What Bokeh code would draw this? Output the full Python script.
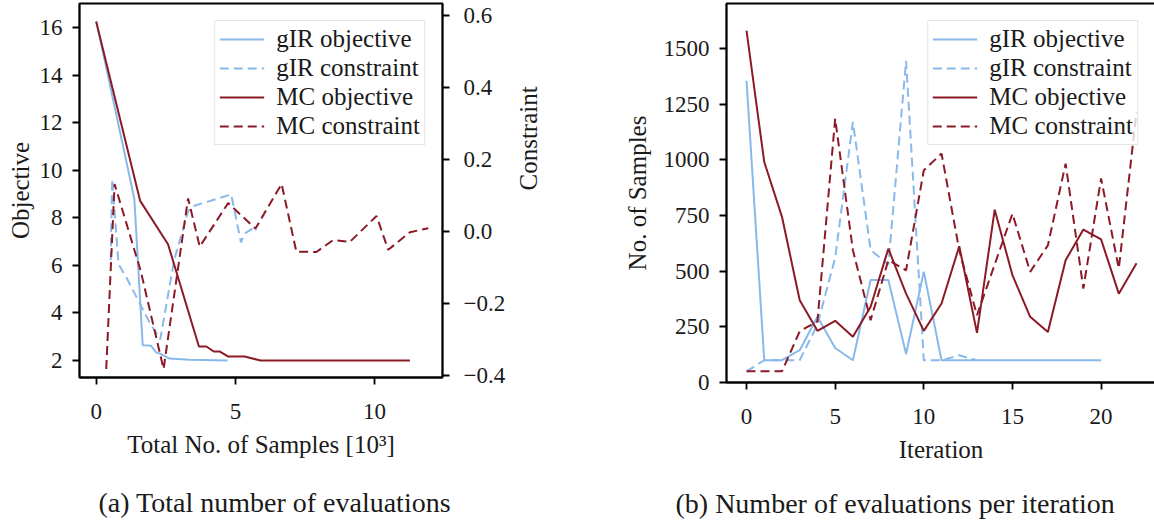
import math
from bokeh.plotting import figure
from bokeh.models import (Range1d, LinearAxis, FixedTicker, CustomJSTickFormatter,
                          Legend, LegendItem, Title)
from bokeh.layouts import row
from bokeh.embed import file_html
from bokeh.resources import INLINE

# ---------------- data: panel (a) ----------------
gir_obj_x = [0, 1.37, 1.67, 1.97, 2.15, 2.33, 2.63, 3.35, 4.72]
gir_obj_y = [16.28, 8.8, 2.64, 2.62, 2.34, 2.27, 2.08, 2.03, 2.0]
mc_obj_x = [0, 1.58, 2.58, 3.69, 3.96, 4.22, 4.43, 4.73, 5.33, 5.9, 11.27]
mc_obj_y = [16.24, 8.71, 6.89, 2.59, 2.59, 2.38, 2.38, 2.17, 2.17, 2.0, 2.0]
gir_con_x = [0.52, 0.575, 0.8, 1.1, 1.5, 1.9, 2.3, 2.8, 3.3, 3.47, 4.85, 5.2, 5.33, 5.69, 5.75]
gir_con_y = [-0.08, 0.146, -0.09, -0.13, -0.19, -0.25, -0.30, -0.08, 0.056, 0.07, 0.103,
             -0.03, -0.006, 0.012, 0.003]
mc_con_x = [0.36, 0.66, 1.6, 2.42, 3.3, 3.72, 4.74, 5.72, 6.66, 7.19, 7.91, 8.51, 9.11,
            10.07, 10.49, 11.27, 11.93]
mc_con_y = [-0.382, 0.132, -0.11, -0.382, 0.092, -0.042, 0.079, 0.008, 0.132, -0.056,
            -0.057, -0.024, -0.029, 0.043, -0.051, -0.002, 0.009]

# ---------------- data: panel (b) ----------------
gir_obj_it = list(range(21))
gir_obj_n = [1355, 100, 100, 145, 295, 155, 100, 460, 460, 128, 498, 100, 100, 100, 100,
             100, 100, 100, 100, 100, 100]
gir_con_it = list(range(14))
gir_con_n = [50, 100, 100, 100, 260, 560, 1170, 595, 530, 1445, 100, 100, 122, 100]
mc_obj_it = list(range(23))
mc_obj_n = [1580, 990, 744, 369, 232, 277, 205, 340, 601, 399, 232, 355, 612, 223, 776,
            482, 295, 227, 549, 687, 643, 399, 535]
mc_con_it = list(range(23))
mc_con_n = [50, 50, 50, 230, 275, 1185, 594, 280, 549, 504, 953, 1028, 594, 302, 530,
            758, 497, 616, 983, 422, 916, 512, 1215]

legend_labels = ["gIR objective", "gIR constraint", "MC objective", "MC constraint"]
captions = ["(a) Total number of evaluations", "(b) Number of evaluations per iteration"]

BLUE = "#88b9ea"
RED = "#8b1a26"
FONT = "Liberation Serif"
TXT = "#1a1a1a"
DASH = "9 5"
LW = 2.0


def style_axis(ax, xaxis=False):
    ax.axis_line_color = "black"
    ax.axis_line_width = 1.8
    ax.major_tick_line_color = "black"
    ax.major_tick_line_width = 1.8
    ax.major_tick_out = 7
    ax.major_tick_in = 0
    ax.minor_tick_line_color = None
    ax.major_label_text_font = FONT
    ax.major_label_text_font_size = "23px"
    ax.major_label_text_color = TXT
    ax.major_label_standoff = 19 if xaxis else 10
    ax.axis_label_text_font = FONT
    ax.axis_label_text_font_size = "25px"
    ax.axis_label_text_font_style = "normal"
    ax.axis_label_text_color = TXT
    ax.axis_label_standoff = 9 if xaxis else 10


def base_fig(xr, yr, fw, fh, bl, br, bt, bb):
    p = figure(x_range=xr, y_range=yr, frame_width=fw, frame_height=fh,
               min_border_left=bl, min_border_right=br, min_border_top=bt,
               min_border_bottom=bb, output_backend="svg", toolbar_location=None,
               background_fill_color="white", border_fill_color="white")
    p.xgrid.grid_line_color = None
    p.ygrid.grid_line_color = None
    p.outline_line_color = "black"
    p.outline_line_width = 1.8
    p.outline_line_alpha = 1.0
    return p


def make_legend(items):
    lg = Legend(items=items, location="top_right", margin=17,
                label_text_font=FONT, label_text_font_size="25px",
                label_text_color=TXT, glyph_width=45, glyph_height=28,
                label_height=28, spacing=1, padding=4, label_standoff=12,
                border_line_color="#cccccc", border_line_width=1.5,
                background_fill_color="white", background_fill_alpha=0.8)
    return lg


# ---------------- panel (a) ----------------
pa = base_fig(Range1d(-0.6, 12.44), Range1d(1.285, 17.01), 363, 374, 79, 157, 3, 136)
pa.extra_y_ranges = {"con": Range1d(-0.4056, 0.6333)}
pa.xaxis.ticker = FixedTicker(ticks=[0, 5, 10])
pa.yaxis.ticker = FixedTicker(ticks=[2, 4, 6, 8, 10, 12, 14, 16])
pa.xaxis.axis_label = "Total No. of Samples [10³]"
pa.yaxis.axis_label = "Objective"
raxis = LinearAxis(y_range_name="con", axis_label="Constraint",
                   ticker=FixedTicker(ticks=[-0.4, -0.2, 0.0, 0.2, 0.4, 0.6]),
                   formatter=CustomJSTickFormatter(
                       code="return tick.toFixed(1).replace('-', '\u2212');"))
pa.add_layout(raxis, "right")
style_axis(pa.xaxis[0], xaxis=True)
style_axis(pa.yaxis[0])
pa.yaxis[0].axis_label_standoff = 3
style_axis(raxis)
raxis.major_label_standoff = 14
raxis.axis_label_standoff = 20
raxis.axis_label_orientation = math.pi / 2

a1 = pa.line(gir_obj_x, gir_obj_y, line_color=BLUE, line_width=LW)
a2 = pa.line(gir_con_x, gir_con_y, line_color=BLUE, line_width=LW, line_dash=DASH,
             y_range_name="con")
a3 = pa.line(mc_obj_x, mc_obj_y, line_color=RED, line_width=LW)
a4 = pa.line(mc_con_x, mc_con_y, line_color=RED, line_width=LW, line_dash=DASH,
             y_range_name="con")
pa.add_layout(make_legend([LegendItem(label=l, renderers=[r]) for l, r in
                           zip(legend_labels, [a1, a2, a3, a4])]))
pa.add_layout(Title(text=captions[0], align="left", text_font=FONT,
                    text_font_size="28px", text_font_style="normal",
                    text_color=TXT, standoff=49, offset=19), "below")

# ---------------- panel (b) ----------------
pb = base_fig(Range1d(-1.13, 23.07), Range1d(0, 1702), 429, 379, 127, 1, 2, 132)
pb.xaxis.ticker = FixedTicker(ticks=[0, 5, 10, 15, 20])
pb.yaxis.ticker = FixedTicker(ticks=[0, 250, 500, 750, 1000, 1250, 1500])
pb.xaxis.axis_label = "Iteration"
pb.yaxis.axis_label = "No. of Samples"
style_axis(pb.xaxis[0], xaxis=True)
style_axis(pb.yaxis[0])

b1 = pb.line(gir_obj_it, gir_obj_n, line_color=BLUE, line_width=LW)
b2 = pb.line(gir_con_it, gir_con_n, line_color=BLUE, line_width=LW, line_dash=DASH)
b3 = pb.line(mc_obj_it, mc_obj_n, line_color=RED, line_width=LW)
b4 = pb.line(mc_con_it, mc_con_n, line_color=RED, line_width=LW, line_dash=DASH)
pb.add_layout(make_legend([LegendItem(label=l, renderers=[r]) for l, r in
                           zip(legend_labels, [b1, b2, b3, b4])]))
pb.add_layout(Title(text=captions[1], align="left", text_font=FONT,
                    text_font_size="28px", text_font_style="normal",
                    text_color=TXT, standoff=41, offset=-51), "below")

layout = row(pa, pb)
open("out.html", "w").write(file_html(layout, INLINE))
